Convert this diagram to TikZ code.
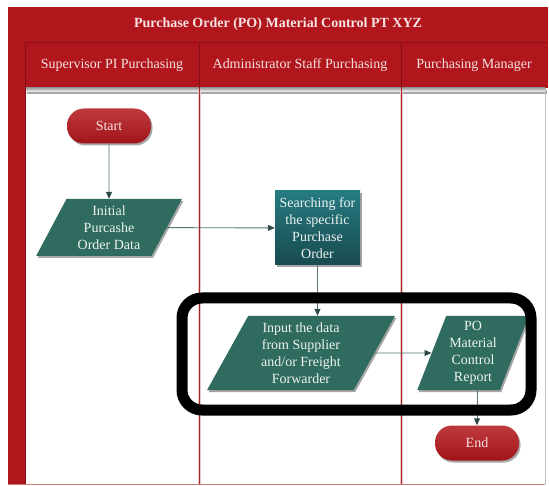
\documentclass[tikz,border=0pt]{standalone}
\usepackage{fontspec}
\setmainfont{Liberation Serif}
\usetikzlibrary{shapes.geometric,arrows.meta,shadows,calc}

\definecolor{poolred}{HTML}{B0161B}
\definecolor{poolline}{HTML}{86101A}
\definecolor{headtext}{HTML}{F6E3E3}
\definecolor{ioGreen}{HTML}{2F6B5E}
\definecolor{procTop}{HTML}{267B81}
\definecolor{procBot}{HTML}{174A4F}
\definecolor{termRed}{HTML}{B3171C}
\definecolor{flow}{HTML}{587474}
\definecolor{tipcol}{HTML}{2C4A4A}
\definecolor{lanerule}{HTML}{A8262B}
\definecolor{nodetext}{HTML}{EEF3EF}

\begin{document}
\begin{tikzpicture}[x=1pt,y=-1pt,
  shade/.style={drop shadow={shadow xshift=1.5pt,shadow yshift=-2pt,opacity=0.35,fill=black}},
  nodefont/.style={font=\fontsize{14}{17}\selectfont},
  terminal/.style={rectangle,rounded corners=17pt,top color=termRed!85!white,bottom color=termRed!90!black,
    text=headtext,minimum width=84pt,minimum height=35pt,inner sep=0pt,nodefont,shade},
  iobox/.style={trapezium,trapezium stretches=true,fill=ioGreen,text=nodetext,
    inner sep=0pt,align=center,nodefont,shade},
  procbox/.style={rectangle,top color=procTop,bottom color=procBot,text=nodetext,
    inner sep=0pt,align=center,nodefont,shade},
  headtxt/.style={text=headtext,font=\fontsize{14}{17}\selectfont},
  flowline/.style={draw=flow,line width=0.9pt,-{Triangle[length=7pt,width=6pt,color=tipcol]}}
]
% canvas
\useasboundingbox (0,0) rectangle (549,486);
\fill[white] (0,0) rectangle (549,486);

% pool frame: title bar, left band, lane header row
\fill[poolred] (8,7) rectangle (548,42);
\fill[poolred] (8,42) rectangle (25,484);
\fill[poolred] (25,42) rectangle (548,88);
\shade[top color=black!35,bottom color=white] (25,88) rectangle (545,92);
\draw[poolline,line width=0.8pt] (25,42.5) -- (548,42.5);
\draw[poolline,line width=1pt] (25,42) -- (25,484);
\draw[poolline,line width=1.2pt] (199.5,42) -- (199.5,88);
\draw[poolline,line width=1.2pt] (401.5,42) -- (401.5,88);

% lane rules and outer border
\draw[lanerule!25,line width=3pt] (199.5,90) -- (199.5,484);
\draw[lanerule!25,line width=3pt] (401.5,90) -- (401.5,484);
\draw[lanerule,line width=0.9pt] (199.5,88) -- (199.5,484);
\draw[lanerule,line width=0.9pt] (401.5,88) -- (401.5,484);
\draw[lanerule!60,line width=0.8pt] (8,484) -- (545,484);
\draw[black!25,line width=0.8pt] (545,88) -- (545,484);

% titles
\node[headtxt,font=\bfseries\fontsize{14}{17}\selectfont] (title) at (278,24) {Purchase Order (PO) Material Control PT XYZ};
\node[headtxt] (lane1) at (112,65) {Supervisor PI Purchasing};
\node[headtxt] (lane2) at (300,65) {Administrator Staff Purchasing};
\node[headtxt] (lane3) at (474,65) {Purchasing Manager};

% flow nodes
\node[terminal] (start) at (109,126) {Start};
\node[iobox,trapezium left angle=63,trapezium right angle=117,
      minimum width=146pt,minimum height=57pt] (init) at (109,227.5)
      {Initial\\Purcashe\\Order Data};
\node[procbox,minimum width=85pt,minimum height=74pt] (search) at (317.5,228)
      {Searching for\\the specific\\Purchase\\Order};
\node[iobox,trapezium left angle=63,trapezium right angle=117,
      minimum width=188pt,minimum height=74pt] (input) at (301,353)
      {Input the data\\from Supplier\\and/or Freight\\Forwarder};
\node[iobox,trapezium left angle=68,trapezium right angle=112,
      minimum width=112pt,minimum height=74pt] (po) at (473,353)
      {PO\\Material\\Control\\Report};
\node[terminal] (end) at (477,443) {End};

% connectors
\draw[flowline] (start) -- (init);
\draw[flowline] (init) -- (search);
\draw[flowline] (search.south) -- (search.south |- input.north);
\draw[flowline] (input) -- (po);
\draw[flowline] (end.north |- po.south) -- (end.north);

% highlight frame
\draw[black,line width=11pt,rounded corners=20pt] (182,298) rectangle (531,410);
\end{tikzpicture}
\end{document}
